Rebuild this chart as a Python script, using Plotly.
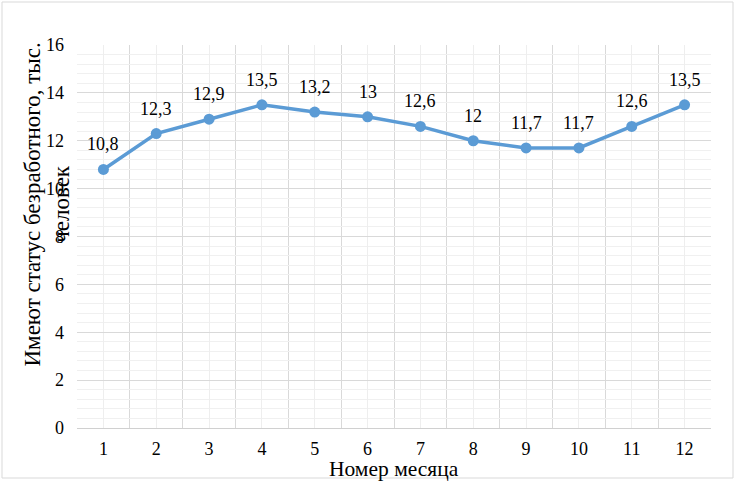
import plotly.graph_objects as go

months = [1, 2, 3, 4, 5, 6, 7, 8, 9, 10, 11, 12]
month_labels = ["1", "2", "3", "4", "5", "6", "7", "8", "9", "10", "11", "12"]
unemployed = [10.8, 12.3, 12.9, 13.5, 13.2, 13.0, 12.6, 12.0, 11.7, 11.7, 12.6, 13.5]
value_labels = ["10,8", "12,3", "12,9", "13,5", "13,2", "13", "12,6", "12", "11,7", "11,7", "12,6", "13,5"]

FONT = "Liberation Serif"
COLOR = "#5B9BD5"

fig = go.Figure()
fig.add_trace(go.Scatter(
    x=months, y=unemployed, mode="lines+markers",
    line=dict(color=COLOR, width=3.5),
    marker=dict(color=COLOR, size=11),
    cliponaxis=False, showlegend=False, hoverinfo="x+y",
))

annotations = [dict(
    x=m, y=v, text=t, xref="x", yref="y", showarrow=False, yshift=25,
    font=dict(family=FONT, size=18, color="#000"),
) for m, v, t in zip(months, unemployed, value_labels)]

annotations.append(dict(
    text="Имеют статус безработного, тыс.<br>человек", textangle=-90,
    xref="paper", yref="paper", x=(46.5 - 77) / 634, y=(428 - 205) / 383,
    xanchor="center", yanchor="middle",
    showarrow=False, font=dict(family=FONT, size=23, color="#000"), align="center",
))
annotations.append(dict(
    text="Номер месяца", xref="paper", yref="paper", x=0.5, y=(428 - 469) / 383,
    xanchor="center", yanchor="middle", showarrow=False,
    font=dict(family=FONT, size=21.5, color="#000"),
))

fig.update_layout(
    width=736, height=481,
    margin=dict(l=77, r=25, t=45, b=53, autoexpand=False),
    paper_bgcolor="white", plot_bgcolor="white",
    font=dict(family=FONT, size=18, color="#000"),
    xaxis=dict(
        range=[0.5, 12.5], tickmode="array", tickvals=months, ticktext=month_labels,
        showgrid=True, gridcolor="#eeeeee", gridwidth=1,
        minor=dict(tick0=0.5, dtick=1, showgrid=True, gridcolor="#d9d9d9", gridwidth=1),
        showline=True, linecolor="#d0d0d0", linewidth=1,
        ticks="", ticklen=0, zeroline=False, automargin=False,
        tickfont=dict(family=FONT, size=18),
        ticklabelstandoff=4,
    ),
    yaxis=dict(
        range=[0, 16], dtick=2, tick0=0,
        showgrid=True, gridcolor="#d9d9d9", gridwidth=1,
        minor=dict(dtick=0.4, showgrid=True, gridcolor="#f0f0f0", gridwidth=1),
        showline=False, zeroline=False, ticks="", automargin=False,
        tickfont=dict(family=FONT, size=18),
        ticklabelstandoff=12,
    ),
    shapes=[dict(type="rect", xref="paper", yref="paper",
                 x0=(2 - 77) / 634, y0=(428 - 478) / 383, x1=(733 - 77) / 634, y1=(428 - 2) / 383,
                 line=dict(color="#d9d9d9", width=1))],
    annotations=annotations,
)

fig.write_html("out.html", post_script="document.body.style.margin='0px';",
               config={"displayModeBar": False})
